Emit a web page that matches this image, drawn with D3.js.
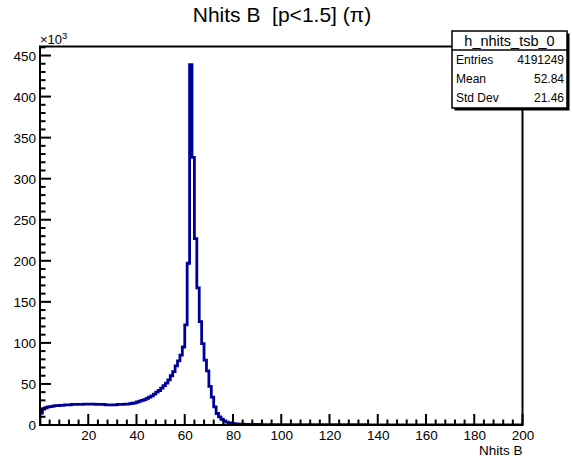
<!DOCTYPE html>
<html>
<head>
<meta charset="utf-8">
<script src="https://cdn.jsdelivr.net/npm/d3@7"></script>
<style>
  html, body { margin: 0; padding: 0; background: #fff; }
  svg { display: block; font-family: "Liberation Sans", Arial, Helvetica, sans-serif; }
  text { white-space: pre; }
</style>
</head>
<body>
<svg id="chart" width="572" height="462"></svg>
<script>
// ---- data (counts in units of 10^3, one bin per unit of Nhits B, 0..200) ----
const binLow = 0, binHigh = 200;
const counts = [
  14.5,19.5,21,22,22.5,23,23.5,23.5,24,24,
  24.5,24.5,24.5,25,25,25,25,25,25.5,25.5,
  25.5,25.5,25.5,25,25,25,25,24.5,24.5,24.5,
  24.5,24.5,25,25,25,25.5,25.5,26,26.5,27,
  28,29,30,31,32.5,34,35.5,37.5,40,42,
  45,48,51,55,60,65,72,78,85,95,
  122,197,439,326,227,167,126,99,79,66,
  47,34,22,14,10,7,5,3.5,2.5,2,
  1.5,1.3,1.1,1.0,0.9,0.8,0.8,0.7,0.7,0.6,
  0.6,0.5,0.5,0.5,0.5,0.5,0.5,0.5,0.5,0.5,
  0.5,0.4,0.4,0.4,0.4,0.4,0.4,0.4,0.4,0.4,
  0.4,0.4,0.4,0.4,0.4,0.4,0.4,0.4,0.4,0.4,
  0.4,0.3,0.3,0.3,0.3,0.3,0.3,0.3,0.3,0.3,
  0.3,0.3,0.3,0.3,0.3,0.3,0,0,0,0,
  0,0,0,0,0,0,0,0,0,0,
  0,0,0,0,0,0,0,0,0,0,
  0,0,0,0,0,0,0,0,0,0,
  0,0,0,0,0,0,0,0,0,0,
  0,0,0,0,0,0,0,0,0,0,
  0,0,0,0,0,0,0,0,0,0
];
const xMajorTicks = [20,40,60,80,100,120,140,160,180,200];
const yMajorTicks = [0,50,100,150,200,250,300,350,400,450];
const yMax = 461;
const titleText = "Nhits B  [p<1.5] (\u03C0)";
const xTitle = "Nhits B";
const statsName = "h_nhits_tsb_0";
const statLabels = ["Entries", "Mean", "Std Dev"];
const statValues = ["4191249", "52.84", "21.46"];

// ---- layout ----
const svg = d3.select("#chart");
const fx0 = 40, fx1 = 522.5, fy0 = 46.5, fy1 = 425;
const x = d3.scaleLinear().domain([binLow, binHigh]).range([fx0, fx1]);
const y = d3.scaleLinear().domain([0, yMax]).range([fy1, fy0]);
const lineColor = "#000099";

// title
svg.append("text").attr("x", 282).attr("y", 22).attr("text-anchor", "middle")
  .attr("font-size", 21).text(titleText);

// histogram outline
svg.append("clipPath").attr("id", "clip").append("rect")
  .attr("x", fx0).attr("y", fy0).attr("width", fx1 - fx0).attr("height", fy1 - fy0);
const pts = [[x(0), y(0)]];
counts.forEach((v, i) => { pts.push([x(i), y(v)]); pts.push([x(i + 1), y(v)]); });
pts.push([x(binHigh), y(0)]);
svg.append("path").attr("clip-path", "url(#clip)")
  .attr("d", d3.line()(pts)).attr("fill", "none")
  .attr("stroke", lineColor).attr("stroke-width", 2.8).attr("stroke-linejoin", "miter");

// axes
const xAxis = d3.axisBottom(x).tickValues(xMajorTicks).tickSize(0).tickPadding(0);
const gx = svg.append("g").attr("transform", `translate(0,${fy1})`).call(xAxis);
gx.select(".domain").remove();
gx.selectAll("text").attr("font-size", 13.5).attr("font-family", null).attr("fill", "#000").attr("dy", null).attr("y", 15);

const yAxis = d3.axisLeft(y).tickValues(yMajorTicks).tickSize(0).tickPadding(0);
const gy = svg.append("g").attr("transform", `translate(${fx0},0)`).call(yAxis);
gy.select(".domain").remove();
gy.selectAll("text").attr("font-size", 13.5).attr("font-family", null).attr("fill", "#000").attr("x", -4).attr("dy", "0.36em");

// tick marks (drawn inside frame)
const tickG = svg.append("g").attr("stroke", "#000").attr("stroke-width", 2);
const xMinor = d3.range(binLow, binHigh + 0.001, 4);
xMinor.forEach(v => {
  const major = Math.abs(v % 20) < 1e-9;
  tickG.append("line").attr("x1", x(v)).attr("x2", x(v)).attr("y1", fy1).attr("y2", fy1 - (major ? 11 : 5.5));
});
const yMinor = d3.range(0, yMax, 10);
yMinor.forEach(v => {
  const major = Math.abs(v % 50) < 1e-9;
  tickG.append("line").attr("y1", y(v)).attr("y2", y(v)).attr("x1", fx0).attr("x2", fx0 + (major ? 11 : 5.5));
});

// frame
svg.append("rect").attr("x", fx0).attr("y", fy0).attr("width", fx1 - fx0).attr("height", fy1 - fy0)
  .attr("fill", "none").attr("stroke", "#000").attr("stroke-width", 2);

// x10^3
const mult = svg.append("text").attr("x", 40).attr("y", 44).attr("font-size", 13);
mult.append("tspan").text("\u00D710");
mult.append("tspan").attr("font-size", 9.5).attr("dy", -5).text("3");

// x title
svg.append("text").attr("x", fx1).attr("y", 455).attr("text-anchor", "end").attr("font-size", 13.5).text(xTitle);

// stats box
const bx = 452, by = 31, bw = 115, bh = 77;
svg.append("rect").attr("x", bx + 2.5).attr("y", by + 2.5).attr("width", bw).attr("height", bh).attr("fill", "#000");
svg.append("rect").attr("x", bx).attr("y", by).attr("width", bw).attr("height", bh)
  .attr("fill", "#fff").attr("stroke", "#000").attr("stroke-width", 1.5);
svg.append("line").attr("x1", bx).attr("x2", bx + bw).attr("y1", 50).attr("y2", 50)
  .attr("stroke", "#000").attr("stroke-width", 1.5);
svg.append("text").attr("x", bx + bw / 2).attr("y", 45.5).attr("text-anchor", "middle")
  .attr("font-size", 14.5).text(statsName);
const rowY = [64, 83, 101.5];
statLabels.forEach((lab, i) => {
  svg.append("text").attr("x", bx + 4).attr("y", rowY[i]).attr("font-size", 12).text(lab);
  svg.append("text").attr("x", bx + bw - 3).attr("y", rowY[i]).attr("text-anchor", "end").attr("font-size", 12).text(statValues[i]);
});
</script>
</body>
</html>
